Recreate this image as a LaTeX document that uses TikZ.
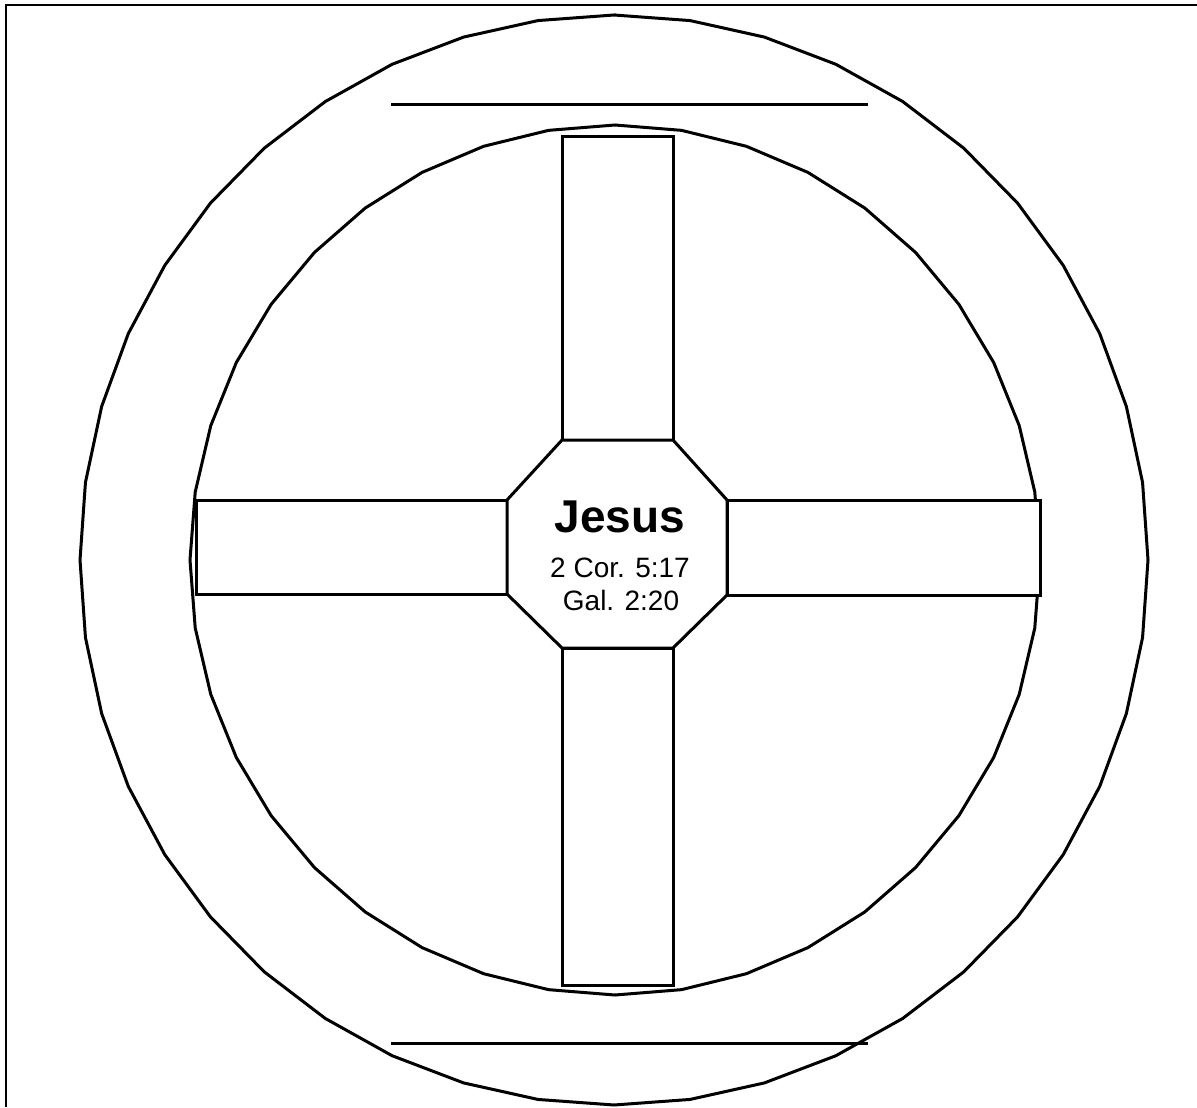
\documentclass[tikz,border=0pt]{standalone}
\usepackage{fontspec}
\setmainfont{Liberation Sans}
\begin{document}
\begin{tikzpicture}[x=0.5pt,y=-0.5pt,
  shape line/.style={line width=1.5pt, line join=miter},
  title text/.style={font=\fontsize{23}{27}\selectfont\bfseries, inner sep=0pt, anchor=base},
  ref text/.style={font=\fontsize{14}{17}\selectfont, inner sep=0pt, anchor=base}]
\useasboundingbox (0,0) rectangle (1197,1107);
% frame (top and left)
\draw[line width=1.3pt] (6,1107) -- (6,5) -- (1197,5);
% outer ring
\draw[shape line] plot[samples=45, domain=90:450] ({614+534*cos(\x)},{560-545*sin(\x)}) -- cycle;
% inner ring
\draw[shape line] plot[samples=41, domain=90:450] ({615+425*cos(\x)},{560-435*sin(\x)}) -- cycle;
% top and bottom bars
\coordinate (tl) at (391,105); \coordinate (tr) at (868,105);
\coordinate (bl) at (391,1043); \coordinate (br) at (868,1043);
\draw[shape line] (tl) -- (tr);
\draw[shape line] (bl) -- (br);
% cross arms
\draw[shape line, fill=white] (562,137) rectangle (673,440);
\draw[shape line, fill=white] (562,648) rectangle (673,985);
\draw[shape line, fill=white] (196,500) rectangle (507,594);
\draw[shape line, fill=white] (727,500) rectangle (1040,595);
% octagon
\draw[shape line, fill=white] (562,440) -- (673,440) -- (727,500) -- (727,595) -- (673,648) -- (562,648) -- (507,594) -- (507,500) -- cycle;
% text
\node[title text] (jesus) at (620,532) {Jesus};
\node[ref text] (cor) at (620,577) {2 Cor. 5:17};
\node[ref text] (gal) at (621,610) {Gal. 2:20};
\end{tikzpicture}
\end{document}
